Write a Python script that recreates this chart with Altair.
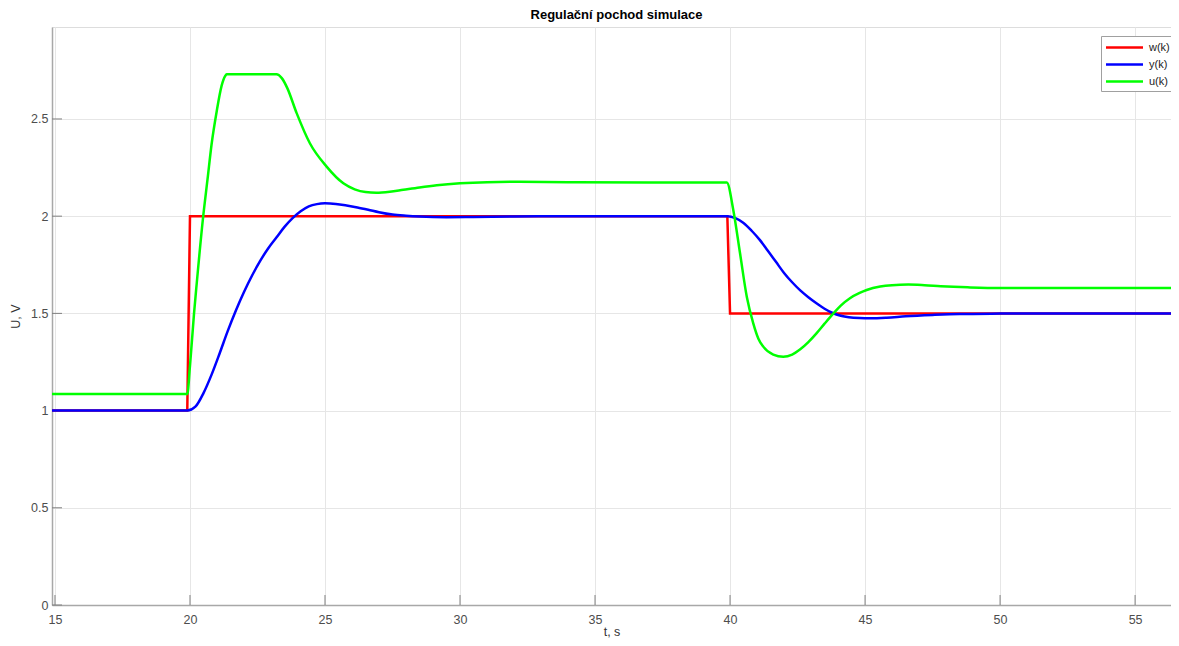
import altair as alt
import pandas as pd

# ---- data ----
w_t = [14.89, 19.9, 20.0, 39.9, 40.0, 56.7]
w_v = [1.0, 1.0, 2.0, 2.0, 1.5, 1.5]

y_t = [14.89, 19.9, 20.2, 20.5, 20.8, 21.1, 21.4, 21.7, 22.0, 22.3, 22.6, 22.9, 23.2, 23.5,
       23.8, 24.1, 24.4, 24.7, 25.0, 25.4, 25.8, 26.2, 26.6, 27.0, 27.5, 28.0, 28.5, 29.5,
       30.5, 32.0, 34.0, 39.9, 40.2, 40.5, 40.8, 41.1, 41.4, 41.7, 42.0, 42.3, 42.6, 42.9,
       43.2, 43.5, 43.8, 44.1, 44.4, 44.8, 45.2, 45.8, 46.5, 47.5, 48.5, 50.0, 52.0, 56.7]
y_v = [1.0, 1.0, 1.02, 1.09, 1.185, 1.295, 1.41, 1.515, 1.61, 1.695, 1.77, 1.835, 1.89, 1.945,
       1.99, 2.025, 2.05, 2.062, 2.066, 2.063, 2.055, 2.045, 2.033, 2.02, 2.008, 2.002, 1.998, 1.995,
       1.996, 1.998, 2.0, 2.0, 1.99, 1.965, 1.925, 1.878, 1.822, 1.765, 1.708, 1.66, 1.618, 1.583,
       1.552, 1.524, 1.502, 1.488, 1.48, 1.476, 1.475, 1.478, 1.485, 1.492, 1.497, 1.499, 1.5, 1.5]

u_t = [14.89, 19.9, 20.0, 20.15, 20.25, 20.49, 20.65, 20.8, 20.99, 21.17, 21.3, 21.36, 23.2,
       23.4, 23.6, 23.95, 24.44, 25.06, 25.68, 26.1, 26.5, 26.9, 27.4, 27.9, 28.5, 29.14,
       30.0, 31.0, 32.2, 34.0, 37.0, 39.88, 40.12, 40.37, 40.62, 40.86, 41.05, 41.23, 41.6,
       41.97, 42.3, 42.6, 42.9, 43.2, 43.5, 43.83, 44.1, 44.44, 44.8, 45.06, 45.56, 46.0, 46.6,
       47.2, 47.8, 48.8, 50.0, 52.0, 56.7]
u_v = [1.085, 1.085, 1.23, 1.5, 1.655, 2.0, 2.19, 2.37, 2.54, 2.67, 2.72, 2.73, 2.73,
       2.71, 2.66, 2.53, 2.375, 2.255, 2.169, 2.138, 2.124, 2.121, 2.126, 2.136, 2.148, 2.159,
       2.169, 2.175, 2.177, 2.175, 2.173, 2.173, 2.032, 1.809, 1.586, 1.449, 1.37, 1.329, 1.288,
       1.277, 1.288, 1.315, 1.352, 1.397, 1.447, 1.5, 1.54, 1.578, 1.605, 1.62, 1.638, 1.645, 1.648,
       1.645, 1.64, 1.634, 1.63, 1.63, 1.63]

series_names = ["w(k)", "y(k)", "u(k)"]
series_colors = ["#ff0000", "#0000ff", "#00ff00"]

x_ticks = [15, 20, 25, 30, 35, 40, 45, 50, 55]
y_ticks = [0, 0.5, 1, 1.5, 2, 2.5]

X_DOMAIN = [14.89, 56.33]
Y_DOMAIN = [0, 2.973]

W, H = 1119, 578

df_w = pd.DataFrame({"t": w_t, "v": w_v, "s": "w(k)"})
df_yu = pd.concat([
    pd.DataFrame({"t": y_t, "v": y_v, "s": "y(k)"}),
    pd.DataFrame({"t": u_t, "v": u_v, "s": "u(k)"}),
])

FONT = "Liberation Sans"

xs = alt.Scale(domain=X_DOMAIN, nice=False, zero=False)
ys = alt.Scale(domain=Y_DOMAIN, nice=False, zero=False)
cs = alt.Scale(domain=series_names, range=series_colors)

x_axis = alt.Axis(values=x_ticks, title="t, s", grid=True, ticks=False, tickSize=0, format="~g",
                  labelPadding=8, labelFontSize=12.5, labelColor="#4d4d4d", labelFont=FONT,
                  titleFont=FONT, titleFontSize=12.5, titleFontWeight="normal", titleColor="#333333",
                  titleY=30.5, titleBaseline="alphabetic", domainColor="#a8a8a8", domainWidth=1.5,
                  gridColor="#e6e6e6", labelFlush=False)
y_axis = alt.Axis(values=y_ticks, title="U, V", grid=True, ticks=False, tickSize=0, format="~g",
                  labelPadding=4, labelFontSize=12.5, labelColor="#4d4d4d", labelFont=FONT,
                  titleFont=FONT, titleFontSize=12.5, titleFontWeight="normal", titleColor="#333333",
                  titleX=-37, titleY=H / 2, titleAngle=270, titleBaseline="middle", titleAlign="center",
                  domainColor="#a8a8a8", domainWidth=1.5, gridColor="#e6e6e6", labelFlush=False)

legend = alt.Legend(title=None, orient="none", legendX=1049, legendY=9,
                    symbolType="M-3,0H3", symbolSize=152, symbolStrokeWidth=2.5, symbolOffset=12,
                    labelFont=FONT, labelFontSize=11, labelColor="#222222", labelOffset=17,
                    strokeColor="#a0a0a0", fillColor="white", padding=4, rowPadding=4)

line_w = alt.Chart(df_w).mark_line(strokeWidth=2.5, clip=True).encode(
    x=alt.X("t:Q", scale=xs, axis=x_axis),
    y=alt.Y("v:Q", scale=ys, axis=y_axis),
    color=alt.Color("s:N", scale=cs, legend=legend),
    detail="s:N",
)
line_yu = alt.Chart(df_yu).mark_line(strokeWidth=2.5, clip=True, interpolate="monotone").encode(
    x=alt.X("t:Q", scale=xs),
    y=alt.Y("v:Q", scale=ys),
    color=alt.Color("s:N", scale=cs, legend=legend),
    detail="s:N",
)

xt = alt.Chart(pd.DataFrame({"tx": x_ticks})).mark_rule(color="#808080", strokeWidth=1).encode(
    x=alt.X("tx:Q", scale=xs), y=alt.value(H), y2=alt.value(H - 10))
yt = alt.Chart(pd.DataFrame({"ty": y_ticks})).mark_rule(color="#808080", strokeWidth=1).encode(
    y=alt.Y("ty:Q", scale=ys), x=alt.value(0), x2=alt.value(10))

chart = alt.layer(xt, yt, line_w, line_yu).properties(
    width=W, height=H,
    title=alt.TitleParams("Regulační pochod simulace", font=FONT, fontSize=13, fontWeight="bold",
                          color="#000000", anchor="middle", baseline="alphabetic", offset=8,
                          dx=5, dy=13),
    autosize=alt.AutoSizeParams(type="none"),
    padding={"left": 44, "top": 19, "right": 0, "bottom": 33},
).configure_view(stroke=None).configure(background="white")

chart.save("out.html", embed_options={"renderer": "svg", "actions": False})
